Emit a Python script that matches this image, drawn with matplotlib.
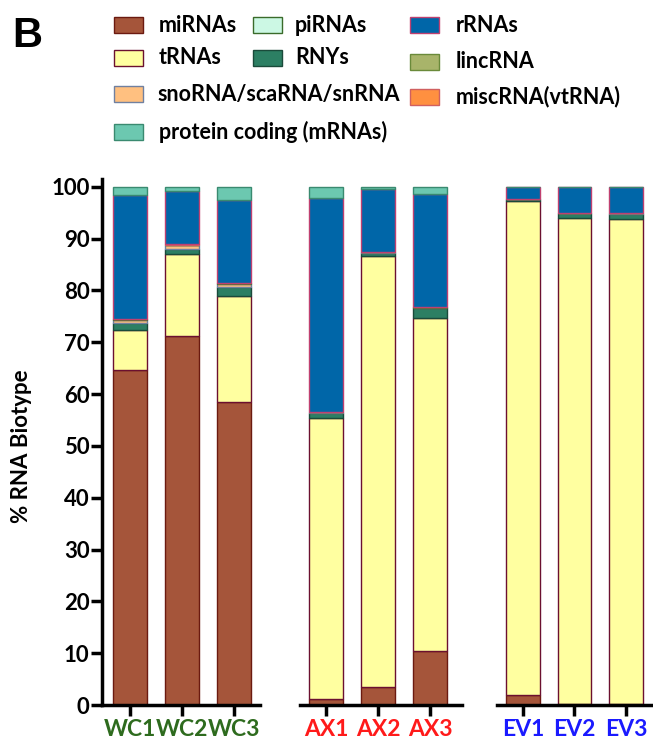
import matplotlib
matplotlib.use("Agg")
import matplotlib.pyplot as plt
from matplotlib.patches import Rectangle
import numpy as np

groups = [["WC1", "WC2", "WC3"], ["AX1", "AX2", "AX3"], ["EV1", "EV2", "EV3"]]
group_colors = ["#2E6B1E", "#FF1A1A", "#1A1AFF"]

# stacking order bottom -> top
biotypes = ["miRNAs", "tRNAs", "RNYs", "snoRNA/scaRNA/snRNA", "piRNAs",
            "lincRNA", "miscRNA(vtRNA)", "rRNAs", "protein coding (mRNAs)"]
face = {"miRNAs": "#A5553A", "tRNAs": "#FFFFA0", "RNYs": "#2C7F63",
        "snoRNA/scaRNA/snRNA": "#FFC080", "piRNAs": "#CCF8E4",
        "lincRNA": "#A8B46A", "miscRNA(vtRNA)": "#FF9040", "rRNAs": "#0066A8",
        "protein coding (mRNAs)": "#6CC8B0"}
edge = {"miRNAs": "#6B1A10", "tRNAs": "#6B1030", "RNYs": "#1A4A3A",
        "snoRNA/scaRNA/snRNA": "#7080A0", "piRNAs": "#3A6B2A",
        "lincRNA": "#6A8A3A", "miscRNA(vtRNA)": "#D06060", "rRNAs": "#C04070",
        "protein coding (mRNAs)": "#3A8A70"}

# percentages per sample (order of biotypes above)
WC1 = [64.7, 7.7, 1.3, 0.6, 0.1, 0.05, 0.05, 23.9, 1.6]
WC2 = [71.2, 15.9, 0.9, 0.7, 0.1, 0.05, 0.05, 10.2, 0.9]
WC3 = [58.5, 20.5, 1.6, 0.7, 0.1, 0.05, 0.05, 16.0, 2.5]
AX1 = [1.2, 54.2, 1.0, 0.1, 0.05, 0.03, 0.02, 41.2, 2.2]
AX2 = [3.5, 83.2, 0.6, 0.05, 0.02, 0.02, 0.01, 12.2, 0.4]
AX3 = [10.4, 64.3, 1.9, 0.1, 0.05, 0.03, 0.02, 21.8, 1.4]
EV1 = [1.9, 95.3, 0.4, 0.05, 0.02, 0.02, 0.01, 2.2, 0.1]
EV2 = [0.2, 93.8, 0.9, 0.05, 0.02, 0.02, 0.01, 4.9, 0.1]
EV3 = [0.2, 93.6, 1.0, 0.05, 0.02, 0.02, 0.01, 5.0, 0.1]
values = [[WC1, WC2, WC3], [AX1, AX2, AX3], [EV1, EV2, EV3]]

yticks = list(range(0, 101, 10))

W, H = 653, 740
fig = plt.figure(figsize=(W / 100, H / 100), dpi=100)
plt.rcParams['font.family'] = ['Lato', 'DejaVu Sans']

def fx(px):
    return px / W

def fy(py):
    return 1 - py / H

y0, ytop = 705, 179
axes_px = [(102, 260, -0.54, 2.5), (300, 462, -0.5, 2.615), (497, 653, -0.5, 2.52)]
for gi, (l, r, xl, xr) in enumerate(axes_px):
    ax = fig.add_axes([fx(l), fy(y0), fx(r - l), (y0 - ytop) / H])
    ax.patch.set_alpha(0)
    x = np.arange(3)
    data = np.array(values[gi])
    bottom = np.zeros(3)
    for bi, b in enumerate(biotypes):
        ax.bar(x, data[:, bi], width=0.65, bottom=bottom, color=face[b],
               edgecolor=edge[b], linewidth=1.0, zorder=2)
        bottom += data[:, bi]
    ax.set_xlim(xl, xr)
    ax.set_ylim(0, 101.5)
    for s in ["top", "right"]:
        ax.spines[s].set_visible(False)
    ax.spines["bottom"].set_linewidth(2.5)
    ax.spines["left"].set_linewidth(2.5)
    ax.set_xticks(x)
    ax.set_xticklabels(groups[gi], fontsize=16.5, fontweight="bold",
                       color=group_colors[gi])
    ax.tick_params(axis="x", length=8, width=2.5, pad=2)
    if gi == 0:
        ax.set_yticks(yticks)
        ax.set_yticklabels([str(t) for t in yticks], fontsize=16, fontweight="bold")
        ax.tick_params(axis="y", length=8, width=2.5, pad=1)
    else:
        ax.spines["left"].set_visible(False)
        ax.set_yticks([])

fig.text(fx(22), fy(446), "% RNA Biotype", fontsize=16, fontweight="bold",
         rotation=90, va="center", ha="center")

# legend
legend_items = [
    ("miRNAs", 114, 25, 159), ("tRNAs", 114, 58, 159),
    ("snoRNA/scaRNA/snRNA", 114, 94, 157), ("protein coding (mRNAs)", 114, 132, 159),
    ("piRNAs", 253, 25, 295), ("RNYs", 253, 58, 295),
    ("rRNAs", 410, 25, 456), ("lincRNA", 410, 62, 456), ("miscRNA(vtRNA)", 410, 97, 456),
]
for name, px, py, tx in legend_items:
    fig.patches.append(Rectangle((fx(px), fy(py + 8)), fx(29), 16 / H,
                                 transform=fig.transFigure, facecolor=face[name],
                                 edgecolor=edge[name], linewidth=1.0))
    fig.text(fx(tx), fy(py), name, fontsize=15.5, fontweight="bold",
             va="center", ha="left")

fig.text(fx(12), fy(36), "B", fontsize=30, fontweight="bold",
         family=["Liberation Sans", "DejaVu Sans"], va="center", ha="left")

fig.savefig("out.png", dpi=100)
